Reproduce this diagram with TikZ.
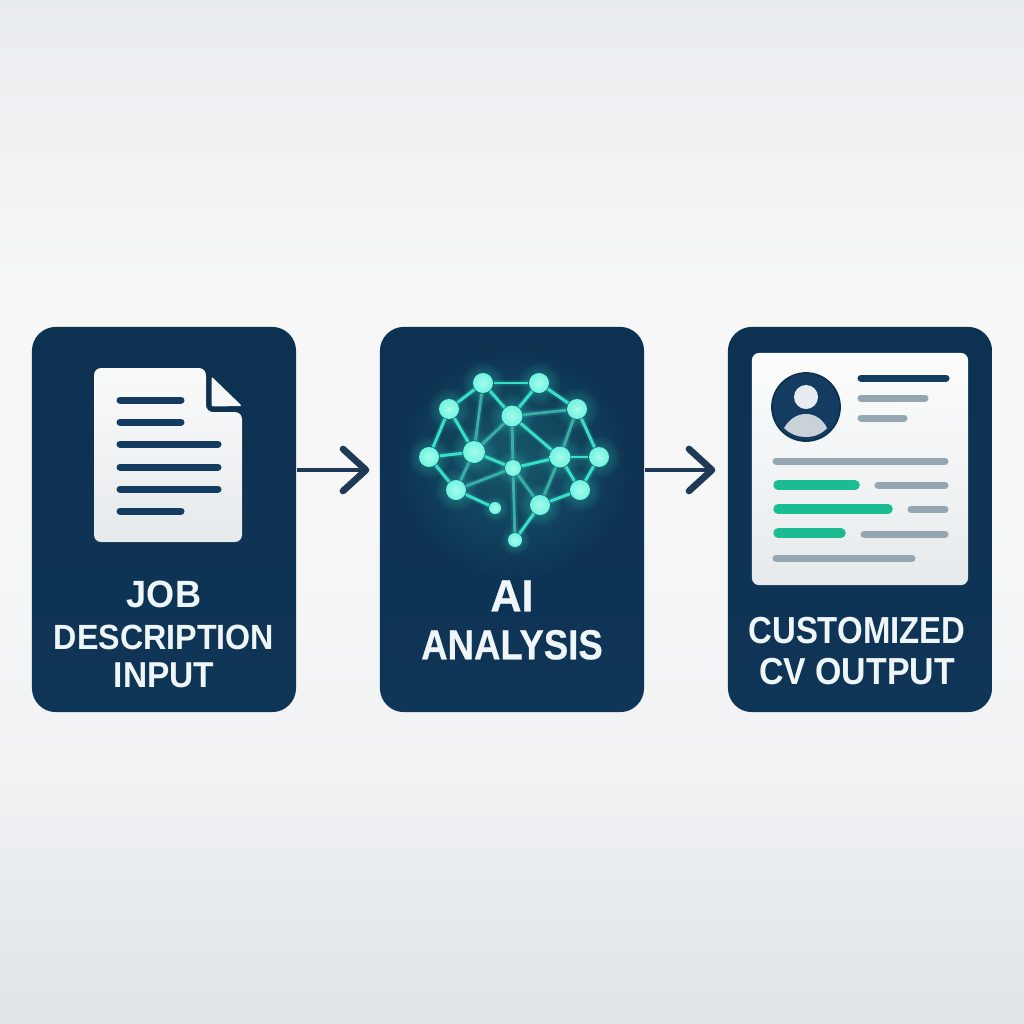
\documentclass[tikz,border=0pt]{standalone}
\usepackage{fontspec}
\setmainfont{Liberation Sans}
\newfontfamily\lblfont{Liberation Sans Bold}
\newfontfamily\lblfontb[FakeBold=0.6]{Liberation Sans Bold}
\usetikzlibrary{fadings,arrows.meta}
\definecolor{panelcol}{HTML}{0D3150}
\definecolor{panelcolb}{HTML}{0F3557}
\definecolor{navy}{HTML}{143C60}
\definecolor{arrowcol}{HTML}{1F3A56}
\definecolor{barcol}{HTML}{94A6B0}
\definecolor{greencol}{HTML}{1CBC92}
\definecolor{tealcol}{HTML}{37E0C8}
\definecolor{tealdim}{HTML}{3AAFA8}
\definecolor{nodecol}{HTML}{6FF5E0}
\definecolor{lblcol}{HTML}{EFF6F8}
\definecolor{bodycol}{HTML}{C8D2D8}
\definecolor{headcol}{HTML}{E6ECF0}
\definecolor{pagebot}{HTML}{E6EAEC}
\pgfdeclareverticalshading{pagebg}{100bp}{
  rgb(0bp)=(0.875,0.894,0.914);
  rgb(25bp)=(0.875,0.894,0.914);
  rgb(37bp)=(0.941,0.949,0.953);
  rgb(50bp)=(0.969,0.969,0.969);
  rgb(60bp)=(0.969,0.969,0.969);
  rgb(75bp)=(0.914,0.925,0.937);
  rgb(100bp)=(0.914,0.925,0.937)}
\tikzfading[name=glowfade, inner color=transparent!60, outer color=transparent!100]
\tikzfading[name=softfade, inner color=transparent!78, outer color=transparent!100]
\newdimen\pxu \pxu=0.2845pt
\newcommand{\lblsetup}{\lineskiplimit=-100pt\relax}
\newcommand{\lblline}[3]{\fontsize{#1}{0}\selectfont\scalebox{#2}[1]{#3}}
\tikzset{
  x=0.01cm, y=-0.01cm,
  panelbox/.style={minimum width=2.64cm, minimum height=3.85cm, rounded corners=0.24cm, inner sep=0pt,
    top color=panelcol, bottom color=panelcolb},
  lbl/.style={align=center, text=lblcol, inner sep=0pt, font=\lblfont\fontsize{10}{0}\selectfont\lblsetup},
  lblb/.style={align=center, text=lblcol, inner sep=0pt, font=\lblfontb\fontsize{10}{0}\selectfont\lblsetup},
  docbar/.style={draw=navy, line width=1.99pt, line cap=round},
  cvbar/.style={draw=barcol, line width=1.99pt, line cap=round},
  greenbar/.style={draw=greencol, line width=2.7pt, line cap=round},
  flowline/.style={draw=arrowcol, line width=1.1pt},
  flowhead/.style={draw=arrowcol, line width=1.9pt, line cap=round, line join=round},
  brainnode/.style={circle, inner sep=0pt, inner color=nodecol!60!white, outer color=nodecol},
  edgeout/.style={draw=tealcol, line width=0.85pt},
  edgein/.style={draw=tealdim, line width=0.8pt},
  edgeglow/.style={draw=tealcol, line width=1.9pt, opacity=0.14},
}
\begin{document}
\begin{tikzpicture}
\useasboundingbox (0,0) rectangle (1024,1024);
\shade[shading=pagebg] (0,0) rectangle (1024,1024);

% panels
\node[panelbox] (p1) at (164,519.5) {};
\node[panelbox] (p2) at (512,519.5) {};
\node[panelbox] (p3) at (860,519.5) {};

% connectors
\coordinate (tipA) at (366,470);
\coordinate (tipB) at (712,470);
\draw[flowline] (p1.east |- tipA) -- (tipA);
\draw[flowhead] ([shift={(-23,-21)}]tipA) -- (tipA) -- ([shift={(-23,21)}]tipA);
\draw[flowline] (p2.east |- tipB) -- (tipB);
\draw[flowhead] ([shift={(-23,-21)}]tipB) -- (tipB) -- ([shift={(-23,21)}]tipB);

% document icon
\fill[top color=white!98!black, bottom color=pagebot, rounded corners=0.07cm]
  (94,368) -- (206,368) -- (206,412) -- (242,412) -- (242,542) -- (94,542) -- cycle;
\fill[white, opacity=0.96, rounded corners=0.02cm] (211.5,376.5) -- (242,406) -- (211.5,406.5) -- cycle;
\foreach \yy/\xe in {400/181,422/181,444/218,467/218,489/218,511/181}
  \draw[docbar] (120,\yy) -- (\xe,\yy);

% brain glow
\fill[tealcol, path fading=softfade] (514,460) circle (120);
\foreach \nm/\xx/\yy/\rr in {a/483/383/10,b/539/383/10,c/449/409/10,d/577/409/10,e/512/416/10.5,f/429/457/10,g/474/452/11,h/560/457/10.5,i/599/457/10,j/513/468/8,k/456/490/10,l/580/490/10,m/540/505/10,n/495/508/6,o/515/540/7}
  \fill[tealcol, path fading=glowfade] (\xx,\yy) circle ({\rr*2.2});
% brain nodes
\foreach \nm/\xx/\yy/\rr in {a/483/383/10,b/539/383/10,c/449/409/10,d/577/409/10,e/512/416/10.5,f/429/457/10,g/474/452/11,h/560/457/10.5,i/599/457/10,j/513/468/8,k/456/490/10,l/580/490/10,m/540/505/10,n/495/508/6,o/515/540/7}
  \node[brainnode, minimum size={2*\rr*0.01cm}] (\nm) at (\xx,\yy) {};
% brain edges
\foreach \s/\t in {a/b,a/c,b/d,c/f,c/g,d/i,f/g,f/k,h/i,h/l,i/l,a/e,b/e,l/m,k/n,m/o,g/j,j/h,e/h}{
  \draw[edgeglow] (\s) -- (\t);
  \draw[edgeout] (\s) -- (\t);}
\foreach \s/\t in {e/d,a/g,e/g,d/h,e/j,j/k,j/m,h/m,g/k,j/o}{
  \draw[edgeglow] (\s) -- (\t);
  \draw[edgein] (\s) -- (\t);}

% CV card
\node[rectangle, rounded corners=0.07cm, minimum width=2.16cm, minimum height=2.32cm, inner sep=0pt,
  top color=white!99!black, bottom color=pagebot] (card) at (860,469) {};
\node[circle, fill=navy, draw=panelcol, line width=0.5pt, minimum size=0.68cm, inner sep=0pt] (avatar) at (806,407) {};
\node[circle, fill=headcol, minimum size=0.24cm, inner sep=0pt] (head) at (806,397) {};
\fill[bodycol] (784,428) .. controls (790,418) and (798,414) .. (806,414) .. controls (814,414) and (822,418) .. (827,428) .. controls (822,434) and (814,437) .. (806,437) .. controls (798,437) and (790,434) .. (784,428) -- cycle;
\draw[docbar] (861,378) -- (946,378);
\foreach \xa/\xb/\yy in {861/925/398,861/904/418,776/945/461,878/945/485,911/945/509,864/945/534,776/912/558}
  \draw[cvbar] (\xa,\yy) -- (\xb,\yy);
\foreach \xb/\yy in {855/485,888/509,841/533}
  \draw[greenbar] (778,\yy) -- (\xb,\yy);

% labels
\node[lbl] (t1) at (164,634.5) {\lblline{10.8}{0.95}{JOB}\\[42\pxu]\lblline{9.96}{0.92}{DESCRIPTION}\\[38\pxu]\lblline{10.24}{0.93}{INPUT}};
\node[lblb] (t2) at (512,620) {\lblline{12.8}{0.96}{AI}\\[48\pxu]\lblline{11.95}{0.87}{ANALYSIS}};
\node[lbl] (t3) at (857,651) {\lblline{10.7}{0.875}{CUSTOMIZED}\\[41\pxu]\lblline{10.7}{0.9}{CV OUTPUT}};
\end{tikzpicture}
\end{document}
